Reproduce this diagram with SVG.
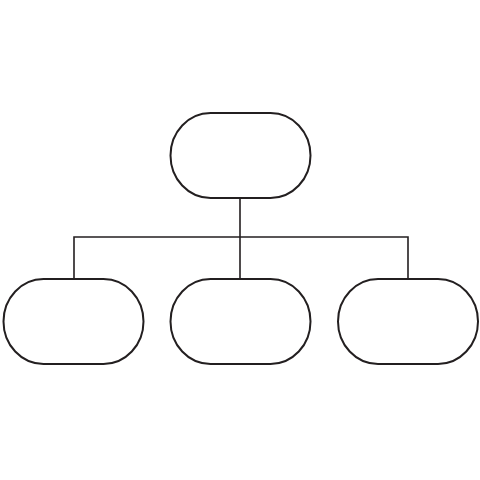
<svg xmlns="http://www.w3.org/2000/svg" width="480" height="480" viewBox="0 0 480 480">
<style>
.n{fill:#fff;stroke:#231f20;stroke-width:2}
.c{fill:none;stroke:#231f20;stroke-width:1.6}
</style>
<rect width="480" height="480" fill="#fff"/>
<g id="connectors">
<path class="c" d="M240 198V237M74 279V237H408V279M240 237V279"/>
</g>
<g id="top"><rect class="n" x="170.5" y="113" width="140" height="85" rx="40" ry="42.5"/></g>
<g id="left"><rect class="n" x="3.5" y="279" width="140" height="85" rx="40" ry="42.5"/></g>
<g id="middle"><rect class="n" x="170.5" y="279" width="140" height="85" rx="40" ry="42.5"/></g>
<g id="right"><rect class="n" x="338" y="279" width="140" height="85" rx="40" ry="42.5"/></g>
</svg>
